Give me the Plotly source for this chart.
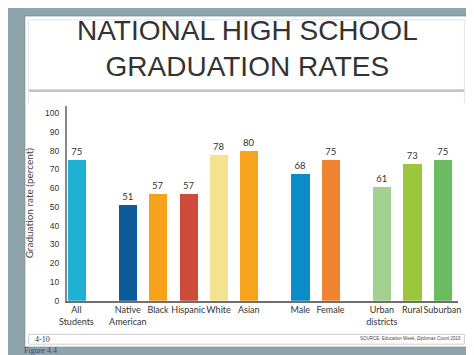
import plotly.graph_objects as go

# ---- data ----
groups = [
    ["All<br>Students"],
    ["Native<br>American", "Black", "Hispanic", "White", "Asian"],
    ["Male", "Female"],
    ["Urban<br>districts", "Rural", "Suburban"],
]
values = [75, 51, 57, 57, 78, 80, 68, 75, 61, 73, 75]
colors = ["#1fb1d3", "#0c5a9a", "#f6a21d", "#cf4b39", "#f4e38e", "#f7a41c",
          "#0a8cc9", "#f08430", "#a4d08f", "#9cc73c", "#6bbb60"]
y_ticks = [0, 10, 20, 30, 40, 50, 60, 70, 80, 90, 100]

# ---- positions from group structure ----
GAP = 1.7
xs, labels = [], []
pos = 0.0
for gi, g in enumerate(groups):
    if gi > 0:
        pos += GAP - 1
    for name in g:
        xs.append(pos)
        labels.append(name)
        pos += 1.0

W, H = 474, 355
def py(px):
    return 1 - px / H
def pxx(px):
    return px / W

FONT = "Lato, Liberation Sans, Arial, sans-serif"

fig = go.Figure()
fig.add_trace(go.Bar(
    x=xs, y=values, width=0.6,
    marker=dict(color=colors, line=dict(width=0)),
    text=[str(v) for v in values], textposition="outside",
    textfont=dict(size=9.5, color="#333333", family=FONT),
    cliponaxis=False, hoverinfo="skip",
))

shapes = [
    dict(type="rect", xref="paper", yref="paper", x0=pxx(9), x1=pxx(463), y0=py(344), y1=py(8),
         fillcolor="white", line=dict(color="#7d8f97", width=1), layer="below"),
    dict(type="rect", xref="paper", yref="paper", x0=pxx(13), x1=pxx(460), y0=py(83), y1=py(12),
         fillcolor="rgba(0,0,0,0)", line=dict(color="#e2e2e2", width=1), layer="below"),
    dict(type="line", xref="paper", yref="paper", x0=pxx(13), x1=pxx(460), y0=py(84), y1=py(84),
         line=dict(color="#c4c4c4", width=2.5), layer="below"),
    dict(type="line", xref="paper", yref="paper", x0=pxx(13), x1=pxx(13), y0=py(84), y1=py(96),
         line=dict(color="#e2e2e2", width=1), layer="below"),
    dict(type="line", xref="paper", yref="paper", x0=pxx(460), x1=pxx(460), y0=py(84), y1=py(96),
         line=dict(color="#e2e2e2", width=1), layer="below"),
    dict(type="rect", xref="paper", yref="paper", x0=pxx(13), x1=pxx(460), y0=py(341), y1=py(331),
         fillcolor="white", line=dict(color="#cfcfcf", width=1), layer="below"),
]

annotations = [
    dict(text="NATIONAL HIGH SCHOOL<br>GRADUATION RATES", xref="paper", yref="paper",
         x=pxx(237), y=py(41.5), xanchor="center", yanchor="middle", showarrow=False,
         font=dict(family="Liberation Sans, Arial, sans-serif", size=28, color="#333333")),
    dict(text="4-10", xref="paper", yref="paper", x=pxx(17), y=py(336.5),
         xanchor="left", yanchor="middle", showarrow=False,
         font=dict(family="Liberation Serif, Times New Roman, serif", size=8, color="#333333")),
    dict(text="SOURCE: Education Week, <i>Diplomas Count 2010</i>", xref="paper", yref="paper",
         x=pxx(459), y=py(335.5), xanchor="right", yanchor="middle", showarrow=False,
         font=dict(family="Liberation Sans, Arial, sans-serif", size=4.5, color="#444444")),
    dict(text="Figure 4.4", xref="paper", yref="paper", x=pxx(6), y=py(347),
         xanchor="left", yanchor="middle", showarrow=False,
         font=dict(family="Liberation Serif, Times New Roman, serif", size=8, color="#4d3f6e")),
]

fig.update_layout(
    width=W, height=H, autosize=False,
    margin=dict(l=0, r=0, t=0, b=0),
    paper_bgcolor="#8fa3ab", plot_bgcolor="rgba(0,0,0,0)",
    showlegend=False, bargap=0,
    shapes=shapes, annotations=annotations,
    xaxis=dict(
        domain=[pxx(52), pxx(453)], range=[-0.32, 12.6],
        tickvals=xs, ticktext=labels, tickangle=0,
        tickfont=dict(family=FONT, size=9, color="#333333"),
        showgrid=False, zeroline=False, showline=True, linecolor="#6f6f6f", linewidth=1.5,
        ticks="", fixedrange=True,
    ),
    yaxis=dict(
        domain=[py(297), py(99)], range=[0, 104],
        tickvals=y_ticks, tickfont=dict(family="Liberation Sans, Arial, sans-serif", size=8.5, color="#333333"),
        showgrid=False, zeroline=False, showline=True, linecolor="#888888", linewidth=1.5,
        ticks="", ticklabelstandoff=4,
        title=dict(text="Graduation rate (percent)", standoff=10,
                   font=dict(family=FONT, size=10, color="#444444")),
    ),
)

fig.write_html("out.html")
